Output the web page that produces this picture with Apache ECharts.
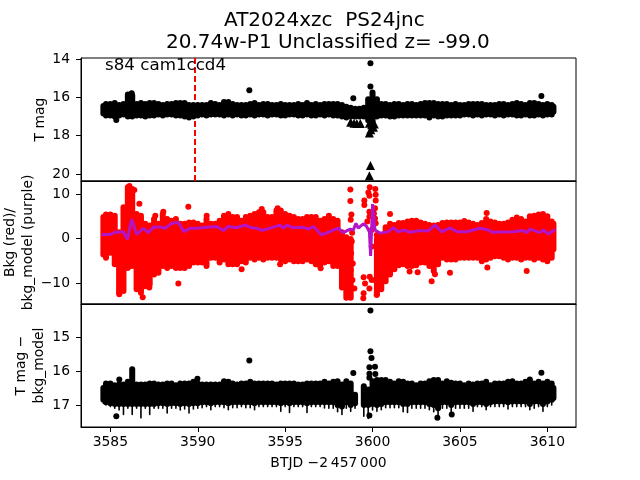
<!DOCTYPE html>
<html><head><meta charset="utf-8">
<style>html,body{margin:0;padding:0;background:#fff}#c{width:640px;height:480px}</style>
<script src="https://cdn.jsdelivr.net/npm/echarts@6/dist/echarts.min.js"></script>
</head><body><div id="c"></div>
<script>
const days=[3584.6,3584.75,3585,3585.25,3585.5,3585.75,3586,3586.25,3586.5,3586.75,3587,3587.25,3587.5,3587.75,3588,3588.25,3588.5,3588.75,3589,3589.25,3589.5,3589.75,3590,3590.25,3590.5,3590.75,3591,3591.25,3591.5,3591.75,3592,3592.25,3592.5,3592.75,3593,3593.25,3593.5,3593.75,3594,3594.25,3594.5,3594.75,3595,3595.25,3595.5,3595.75,3596,3596.25,3596.5,3596.75,3597,3597.25,3597.5,3597.75,3598,3598.25,3598.5,3598.75,3599,3599.25,3599.5,3599.75,3600,3600.25,3600.5,3600.75,3601,3601.25,3601.5,3601.75,3602,3602.25,3602.5,3602.75,3603,3603.25,3603.5,3603.75,3604,3604.25,3604.5,3604.75,3605,3605.25,3605.5,3605.75,3606,3606.25,3606.5,3606.75,3607,3607.25,3607.5,3607.75,3608,3608.25,3608.5,3608.75,3609,3609.25,3609.5,3609.75,3610,3610.25,3610.35];
const magHigh=[16.45,16.35,16.35,16.3,16.4,16.35,15.85,15.9,16.35,16.3,16.35,16.3,16.3,16.35,16.4,16.35,16.35,16.3,16.3,16.3,16.4,16.4,16.4,16.4,16.4,16.3,16.35,16.4,16.25,16.25,16.35,16.4,16.4,16.4,16.35,16.3,16.4,16.35,16.35,16.4,16.4,16.35,16.4,16.4,16.4,16.35,16.4,16.3,16.4,16.35,16.4,16.35,16.35,16.35,16.35,16.4,16.5,16.55,16.6,16.6,16.55,16.1,15.75,16.1,16.35,16.35,16.4,16.35,16.35,16.4,16.35,16.35,16.4,16.35,16.3,16.3,16.3,16.35,16.35,16.35,16.4,16.35,16.4,16.4,16.35,16.35,16.35,16.35,16.4,16.4,16.4,16.35,16.35,16.4,16.35,16.3,16.35,16.4,16.3,16.3,16.35,16.4,16.35,16.4,16.5];
const magLow=[16.85,16.95,16.95,17,16.95,16.9,17,17,16.95,16.95,17,16.95,16.95,16.9,16.95,16.9,16.9,16.95,16.95,17,17.05,17,16.95,16.9,16.95,16.9,16.9,16.9,16.95,16.9,16.95,16.9,16.95,16.95,16.9,16.95,16.9,16.9,16.95,16.9,16.9,16.95,16.95,16.9,16.9,16.95,16.95,16.9,16.95,16.95,16.9,16.95,16.9,16.95,16.95,17,17.05,17,17,17,17,17.2,17.5,17,16.95,16.95,17,17,16.95,16.95,16.95,16.95,16.95,16.95,16.95,17.05,16.95,17,17,16.95,16.95,16.95,16.95,16.9,16.9,16.95,16.9,16.95,16.9,16.9,16.95,16.9,16.95,16.9,16.9,16.95,16.95,16.9,16.95,16.95,16.9,16.95,16.9,16.9,16.75];
const bkgHigh=[4.8,5.4,5.4,5.1,1.4,7,11.5,11.1,5.5,5.1,3.3,2.9,4.4,3.3,5.5,4.4,4,4.4,3.3,3.3,3.6,3.6,3.3,2.9,4.4,3.3,3.3,4,5.1,5.5,4.8,4.8,4,4.8,5.1,5.5,5.9,5.9,4.8,4.8,6.3,6.3,5.5,5.1,4.8,4.4,4.4,4.8,4.8,4.8,4,4.4,5.1,4.4,4,1.4,0.3,-0.1,null,null,null,null,null,-0.1,0.6,2.5,3.3,3,3.5,3.5,3.8,4,4,3.6,3.3,3,2.9,3,3.5,3.6,3.6,3.6,3.6,3.9,3.6,3.3,3,3.5,4.4,3.8,3.6,3.3,3.3,3.6,4.2,4.7,4.4,3.8,5,5.1,5.4,5.5,5,3.8,3.3];
const bkgLow=[-3.6,-4.3,-3.2,-5.8,-12.2,-11.8,-6.6,-6.2,-11.4,-12.2,-10.7,-10.3,-8.1,-7.7,-6.2,-6.6,-6.2,-6.6,-6.6,-6.6,-6.2,-5.4,-5.4,-5.4,-6.2,-4.3,-4.3,-5.4,-4.7,-5.8,-5.8,-5.8,-5.1,-5.4,-4.3,-4.7,-4.3,-4.7,-4.3,-4.3,-4.3,-4.7,-5.1,-4.7,-5.1,-5.1,-5.1,-4.7,-5.1,-5.8,-6.2,-5.4,-5.1,-6.2,-6.2,-11,-13.3,-13.3,null,null,null,null,null,-12.5,-11.4,-9.6,-8.1,-6.9,-6,-5.8,-6.2,-6.2,-6,-5.4,-5.4,-6.2,-7.3,-5.8,-4.3,-4.7,-4.7,-4.7,-4.3,-4.3,-4.3,-4.3,-4.3,-5.1,-4.7,-4.3,-4,-4,-4.3,-4.7,-4.3,-4.3,-4.7,-4.3,-4.3,-4.7,-4.3,-4.7,-5.1,-4.3,-2.4];
const diffHigh=[16.5,16.37,16.37,16.42,16.4,16.4,16.32,15.95,16.4,16.4,16.4,16.37,16.37,16.4,16.4,16.37,16.37,16.42,16.37,16.37,16.37,16.32,16.37,16.4,16.4,16.4,16.4,16.4,16.3,16.32,16.37,16.4,16.37,16.37,16.32,16.37,16.37,16.37,16.37,16.37,16.4,16.37,16.37,16.37,16.37,16.4,16.4,16.37,16.37,16.37,16.37,16.32,16.37,16.32,16.3,16.4,16.3,16.37,16.7,null,16.45,16.55,16.3,16.27,16.27,16.27,16.32,16.37,16.3,16.32,16.37,16.37,16.42,16.37,16.37,16.3,16.27,16.27,16.37,16.3,16.35,16.37,16.37,16.42,16.37,16.4,16.37,16.37,16.32,16.42,16.37,16.37,16.37,16.32,16.3,16.37,16.37,16.32,16.25,16.37,16.32,16.37,16.32,16.37,16.5];
const diffLow=[16.85,16.92,16.95,16.97,16.97,16.97,16.97,16.97,16.97,16.97,16.97,16.97,16.97,16.95,16.95,16.97,16.95,16.95,16.97,16.95,16.97,16.95,16.95,16.92,16.92,16.95,16.92,16.92,16.92,16.95,16.92,16.92,16.92,16.92,16.92,16.95,16.92,16.92,16.92,16.92,16.92,16.95,16.92,16.95,16.92,16.92,16.92,16.95,16.92,16.92,16.92,16.92,16.92,16.92,17,17.05,16.92,17,16.95,null,17,17,16.97,17,16.97,16.92,16.92,16.92,16.92,16.97,16.97,16.92,16.92,16.92,16.92,16.97,17,17.1,16.92,16.92,17,16.92,16.92,16.92,16.92,16.97,16.92,16.92,16.97,16.92,16.9,16.9,16.9,16.92,16.9,16.9,16.9,16.9,16.97,16.9,16.9,16.97,16.9,16.85,16.8];
const diffErr=[16.95,17,17.05,17.1,17.15,17.28,17.1,17.28,17.1,17.38,17.1,17.28,17.1,17.1,17.1,17.24,17.1,17.1,17.15,17.12,17.24,17.12,17.1,17.08,17.05,17.14,17.05,17.05,17.08,17.14,17.08,17.08,17.05,17.08,17.08,17.14,17.05,17.05,17.05,17.05,17.05,17.19,17.05,17.22,17.05,17.05,17.05,17.22,17.05,17.05,17.05,17.09,17.1,17.1,17.2,17.28,17.1,17.19,17.1,null,17.33,17.4,17.15,17.19,17.14,17.08,17.08,17.08,17.08,17.2,17.22,17.1,17.1,17.1,17.1,17.14,17.2,17.38,17.1,17.1,17.33,17.1,17.1,17.1,17.1,17.19,17.05,17.05,17.14,17.05,17.05,17.05,17.05,17.12,17.05,17.05,17.05,17.05,17.14,17.1,17.05,17.19,17.05,17,16.9];
const modelDays=[3584.5,3585,3585.27,3585.74,3585.97,3586.22,3586.51,3586.89,3587.17,3587.46,3587.84,3588.13,3588.51,3588.89,3589.21,3589.56,3589.94,3590.51,3591.08,3591.46,3591.75,3592.23,3592.7,3593.09,3593.37,3593.66,3593.94,3594.71,3594.9,3595.09,3595.47,3596.04,3596.33,3596.61,3597.09,3597.47,3597.76,3598.04,3598.33,3598.71,3598.9,3599.05,3599.18,3599.47,3599.66,3599.82,3599.89,3600,3600.14,3600.43,3600.9,3601.19,3601.48,3601.76,3602.14,3602.72,3603.19,3603.57,3603.95,3604.43,3604.81,3605.39,3606.15,3606.63,3606.82,3608.06,3608.63,3608.82,3609.01,3609.58,3609.77,3610.06,3610.44];
const modelValues=[0.9,0.9,1.4,1.5,-0.2,4.3,0.9,2.3,1.3,2.5,2.6,2.3,3.4,3.6,1.5,2.3,2.3,2.5,2.7,1.8,2.7,2.4,3,2.4,2.3,1.8,2.1,3,2.3,3,2.4,2.5,2.1,2.7,0.8,1.4,1.9,2.3,1.3,2.1,1.9,3.4,2.3,3.3,2.7,1.5,-3.9,7.7,1.9,1.2,1.5,2.4,1.5,1.9,1.4,1.8,1.7,3,1.5,2.4,1.5,1.5,2.3,1.9,1.4,1.5,1.8,1.3,2.1,1.3,1.9,1,2];
const magDots=[[3599.88,14.23],[3599.88,15.44],[3598.9,16.05],[3609.66,15.93],[3592.95,15.63],[3585.34,17.19],[3586.22,15.79]];
const magLimits=[[3598.75,17.3],[3598.94,17.35],[3599.1,17.37],[3599.3,17.37],[3599.82,17.35],[3599.95,17.44],[3600.05,17.56],[3600.1,17.4],[3599.9,17.7],[3599.82,17.87],[3599.88,19.56],[3599.82,20.1]];
const bkgDots=[[3586.09,11.8],[3586.37,10.9],[3586.66,7.8],[3587.57,5.1],[3589.46,7.1],[3588.89,-10.1],[3586.85,-13.2],[3586.7,-11.2],[3587.23,-11],[3585.51,-12.5],[3592.51,-6.9],[3597.03,-6.7],[3594.71,-5.8],[3590.51,5.1],[3588.03,6],[3593.66,6.6],[3594.57,6.8],[3598.73,11],[3598.73,8.4],[3598.79,5.4],[3598.75,4.2],[3598.83,1.3],[3598.81,-0.7],[3598.77,-3.3],[3598.81,-5.6],[3598.87,-5.6],[3598.75,-7.1],[3598.85,-9.3],[3598.96,-11.2],[3599.53,8.5],[3599.53,7.5],[3599.49,-8.7],[3599.57,-10.1],[3599.47,-13.4],[3599.49,-12.3],[3599.84,11.5],[3599.76,10.3],[3599.82,9.6],[3599.82,6],[3599.82,4.9],[3599.7,3.8],[3599.84,-8.6],[3599.82,-11.2],[3600.16,11.1],[3600.18,9.8],[3600.18,8.5],[3600.14,6.8],[3600.08,5.6],[3600.14,4.5],[3600.18,3.4],[3600.24,0.8],[3599.95,-1.8],[3599.95,1.9],[3599.95,-9.3],[3600.14,-9.3],[3600.24,-12.7],[3603.38,-9.6],[3608.82,-7.3],[3606.57,-6.5],[3606.53,5.7],[3601,5.5],[3603.57,-8],[3604.43,-7.7],[3602.58,-7.6],[3602.12,-7.4]];
const diffDots=[[3585.51,16.25],[3589.98,16.23],[3592.95,15.69],[3585.34,17.33],[3599.88,14.22],[3599.88,15.42],[3599.94,15.62],[3599.82,15.89],[3600.14,15.88],[3599.82,16.08],[3600.16,16.09],[3599.82,16.2],[3599.82,17.31],[3598.9,16.06],[3609.66,16.05],[3603.71,17.38],[3604.53,17.28]];
const eventDay=3589.85;
const xTicks=[3585,3590,3595,3600,3605,3610];
const magTicks=[14,16,18,20];
const bkgTicks=[-10,0,10];
const diffTicks=[15,16,17];
const titleLines=['AT2024xzc  PS24jnc','20.74w-P1 Unclassified z= -99.0'];
const noteText='s84 cam1ccd4';
const xName='BTJD \u22122\u2009457\u2009000';
const names=['T mag','Bkg (red)/\nbkg_model (purple)','T mag \u2212\nbkg_model'];

const F='"DejaVu Sans"';
const band=(hi,lo,color,w,gi,z)=>({type:'custom',xAxisIndex:gi,yAxisIndex:gi,z,silent:true,
  data:days.map((d,i)=>[d,hi[i],lo[i]]).filter(r=>r[1]!=null),
  encode:{x:0,y:[1,2]},
  renderItem:(p,api)=>{const a=api.coord([api.value(0),api.value(1)]),b=api.coord([api.value(0),api.value(2)]);
    return {type:'line',shape:{x1:a[0],y1:a[1],x2:b[0],y2:b[1]},style:{stroke:color,lineWidth:w,lineCap:'round',fill:null}};}});
const dots=(d,color,gi,sym,size,z)=>({type:'scatter',xAxisIndex:gi,yAxisIndex:gi,data:d,symbol:sym,symbolSize:size,z,silent:true,clip:false,itemStyle:{color,opacity:1},animation:false});
const grids=[58,181,304].map(t=>({left:81,width:495,top:t,height:123,show:true,borderColor:'#000',borderWidth:1,backgroundColor:'#fff',outerBoundsMode:'none'}));
const xAx=i=>({type:'value',gridIndex:i,min:3583.32,max:3611.64,splitLine:{show:false},
  axisLine:{show:true,onZero:false,lineStyle:{color:'#000',width:1}},
  axisTick:{show:i==2,length:5,lineStyle:{color:'#000',width:1},customValues:xTicks},
  axisLabel:{show:i==2,color:'#000',fontFamily:F,fontSize:13.9,margin:8,customValues:xTicks,formatter:v=>String(v)},
  ...(i==2?{name:xName,nameLocation:'middle',nameGap:29,nameMoveOverlap:false,nameTextStyle:{color:'#000',fontFamily:F,fontSize:13.9}}:{})});
const yAx=(i,min,max,inv,ticks,gap)=>({type:'value',gridIndex:i,min,max,inverse:inv,splitLine:{show:false},
  axisLine:{show:true,onZero:false,lineStyle:{color:'#000',width:1}},
  axisTick:{show:true,length:5,lineStyle:{color:'#000',width:1},customValues:ticks},
  axisLabel:{color:'#000',fontFamily:F,fontSize:13.9,margin:11,customValues:ticks,formatter:v=>String(v).replace('-','\u2212')},
  name:names[i],nameLocation:'middle',nameRotate:90,nameGap:gap,nameMoveOverlap:false,nameTextStyle:{color:'#000',fontFamily:F,fontSize:13.9,lineHeight:18}});
const ttl=(t,left,top)=>({text:t,left,top,padding:0,textStyle:{color:'#000',fontFamily:F,fontSize:20,fontWeight:'normal',lineHeight:22}});
const option={animation:false,backgroundColor:'#fff',
  title:[ttl(titleLines[0],224,10),ttl(titleLines[1],166,32)],
  grid:grids,
  xAxis:[xAx(0),xAx(1),xAx(2)],
  yAxis:[yAx(0,13.95,20.37,true,magTicks,32),yAx(1,-14.7,12.9,false,bkgTicks,44),yAx(2,14.03,17.65,true,diffTicks,33)],
  graphic:[{type:'text',left:105,top:57,z:20,style:{text:noteText,fill:'#000',font:'16.7px "DejaVu Sans"'}}],
  series:[
   {type:'scatter',xAxisIndex:0,yAxisIndex:0,data:[],z:1,silent:true,markLine:{silent:true,symbol:'none',z:1,animation:false,label:{show:false},lineStyle:{color:'#f00',type:[6,3],width:2},data:[{xAxis:eventDay}]}},
   band(magHigh,magLow,'#000',6,0,2),
   dots(magDots,'#000',0,'circle',6,3),
   dots(magLimits,'#000',0,'triangle',9,3),
   band(bkgHigh,bkgLow,'#f00',6,1,2),
   dots(bkgDots,'#f00',1,'circle',6,3),
   {type:'line',xAxisIndex:1,yAxisIndex:1,data:modelDays.map((d,i)=>[d,modelValues[i]]),showSymbol:false,z:4,silent:true,lineStyle:{color:'#b414c8',width:3}},
   band(diffHigh,diffErr,'#000',1.6,2,2),
   band(diffHigh,diffLow,'#000',6,2,2),
   dots(diffDots,'#000',2,'circle',6,3)
  ]};
echarts.init(document.getElementById('c'),null,{renderer:'canvas'}).setOption(option);
</script></body></html>
